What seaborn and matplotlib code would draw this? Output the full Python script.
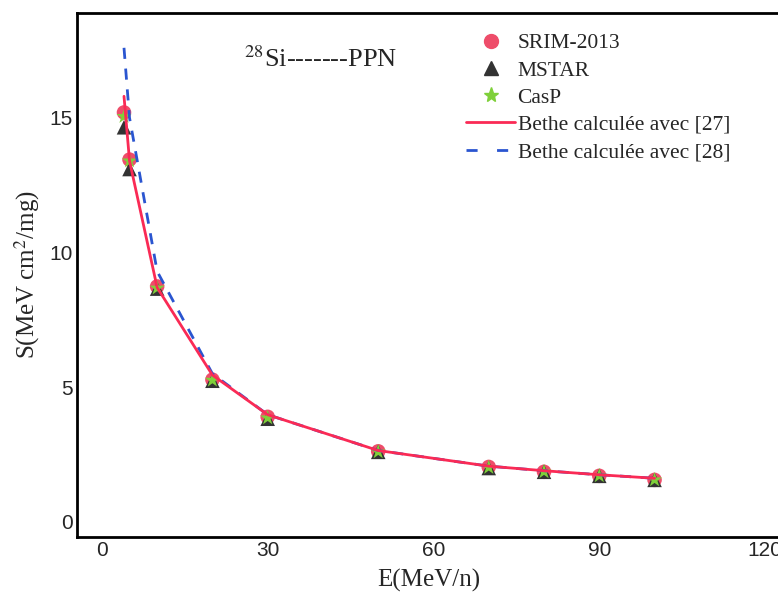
import matplotlib
matplotlib.use("Agg")
import matplotlib.pyplot as plt
import seaborn as sns
import pandas as pd
from matplotlib.lines import Line2D

# ---- data ----
energy = [4, 5, 10, 20, 30, 50, 70, 80, 90, 100]
srim = [15.2, 13.45, 8.74, 5.28, 3.9, 2.62, 2.04, 1.86, 1.71, 1.56]
mstar = [14.65, 13.1, 8.66, 5.24, 3.83, 2.6, 2.0, 1.86, 1.71, 1.56]
casp = [15.05, 13.4, 8.68, 5.26, 3.86, 2.6, 2.02, 1.86, 1.71, 1.56]
bethe27 = [15.8, 13.4, 8.7, 5.45, 3.98, 2.65, 2.07, 1.9, 1.75, 1.62]
bethe28 = [17.6, 15.0, 9.3, 5.5, 3.98, 2.65, 2.07, 1.9, 1.75, 1.62]
xticks = [0, 30, 60, 90, 120]
yticks = [0, 5, 10, 15]

df = pd.DataFrame({"E": energy, "SRIM": srim, "MSTAR": mstar, "CasP": casp,
                   "B27": bethe27, "B28": bethe28})

sns.set_style("white")
plt.rcParams["font.family"] = ["Liberation Serif", "DejaVu Serif"]
plt.rcParams["mathtext.fontset"] = "stix"

fig = plt.figure(figsize=(7.78, 5.95), dpi=100)
ax = fig.add_axes([0.099, 0.0975, 0.905, 0.881])

c_srim = "#ee4d6a"
c_mstar = "#333333"
c_casp = "#7fd03a"
c_red = "#fa2a55"
c_blue = "#2a55d0"

sns.scatterplot(data=df, x="E", y="SRIM", ax=ax, marker="o", s=110, color=c_srim,
                edgecolor="none", zorder=3, legend=False)
sns.scatterplot(data=df, x="E", y="MSTAR", ax=ax, marker="^", s=110, color=c_mstar,
                edgecolor="none", zorder=3, legend=False)
sns.scatterplot(data=df, x="E", y="CasP", ax=ax, marker="*", s=130, color=c_casp,
                edgecolor="none", zorder=3, legend=False)
sns.lineplot(data=df, x="E", y="B28", ax=ax, color=c_blue, lw=2, zorder=4,
             linestyle=(0, (4, 3.5)))
sns.lineplot(data=df, x="E", y="B27", ax=ax, color=c_red, lw=2, zorder=5)

ax.set_xlim(-4.5, 122.9)
ax.set_ylim(-0.56, 18.9)
ax.set_xticks(xticks)
ax.set_yticks(yticks)
ax.tick_params(length=0, pad=3)
for lab in ax.get_xticklabels() + ax.get_yticklabels():
    lab.set_fontfamily(["Liberation Sans", "DejaVu Sans"])
    lab.set_fontsize(15)

for s in ["left", "bottom", "top"]:
    ax.spines[s].set_color("black")
    ax.spines[s].set_linewidth(2)
ax.spines["right"].set_visible(False)

ax.set_xlabel("E(MeV/n)", fontsize=18, labelpad=6)
ax.set_ylabel("S(MeV cm$^{2}$/mg)", fontsize=18)
ax.yaxis.set_label_coords(-0.05, 0.5)

ax.text(39.6, 17.2, "$^{28}$Si-------PPN", fontsize=19, ha="center", va="center")

handles = [
    Line2D([], [], marker="o", color=c_srim, linestyle="none", markersize=10),
    Line2D([], [], marker="^", color=c_mstar, linestyle="none", markersize=10),
    Line2D([], [], marker="*", color=c_casp, linestyle="none", markersize=11),
    Line2D([], [], color=c_red, lw=2),
    Line2D([], [], color=c_blue, lw=2, linestyle=(0, (4, 7))),
]
labels = ["SRIM-2013", "MSTAR", "CasP", "Bethe calculée avec [27]",
          "Bethe calculée avec [28]"]
ax.legend(handles, labels, loc="upper left", bbox_to_anchor=(0.585, 0.962),
          bbox_transform=fig.transFigure, frameon=False, fontsize=15.5,
          handlelength=2.3, handletextpad=0.1, labelspacing=0.33, borderpad=0)

fig.savefig("out.png", dpi=100)
